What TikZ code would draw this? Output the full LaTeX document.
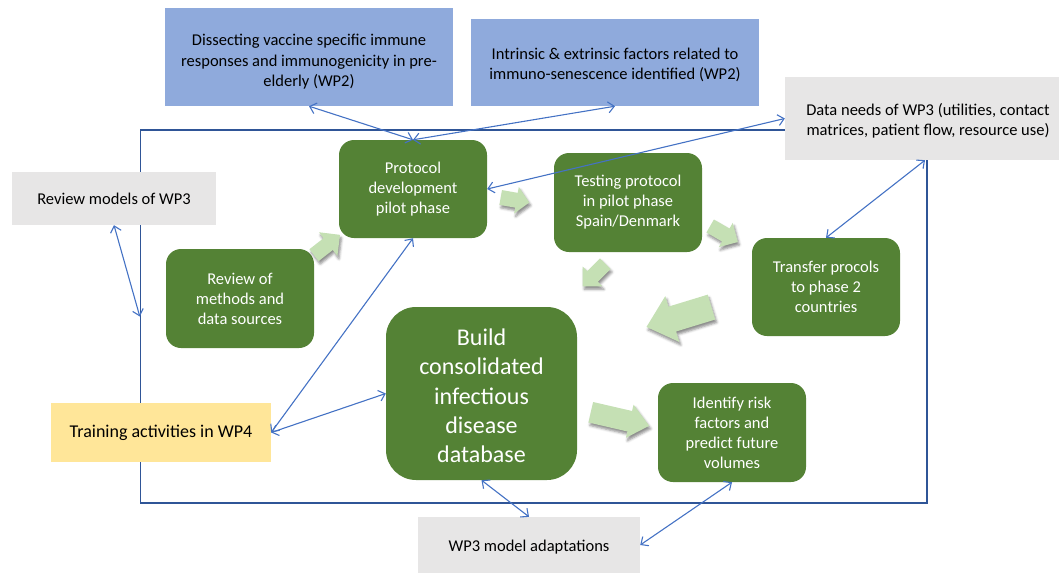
\documentclass[tikz,border=0pt]{standalone}
\usepackage{fontspec}
\setmainfont{Carlito}
\usetikzlibrary{arrows.meta,shadows.blur}
\definecolor{boxgreen}{HTML}{548235}
\definecolor{fatgreen}{HTML}{C5E0B4}
\definecolor{boxblue}{HTML}{8FAADC}
\definecolor{boxgrey}{HTML}{E7E6E6}
\definecolor{boxyellow}{HTML}{FFE699}
\definecolor{linkblue}{HTML}{4472C4}
\definecolor{frameblue}{HTML}{2F5597}
\tikzset{
  greenbox/.style={rectangle, rounded corners=15pt, fill=boxgreen, text=white, align=center,
    font=\fontsize{16.5}{20}\selectfont, inner sep=0pt},
  flatbox/.style={rectangle, align=center, font=\fontsize{16.5}{20.5}\selectfont, text=black, inner sep=0pt},
  textonly/.style={rectangle, align=center, font=\fontsize{16.5}{20.5}\selectfont, text=black, inner sep=0pt},
  link/.style={draw=linkblue, line width=1.1pt,
    {Straight Barb[length=6pt,width=11pt]}-{Straight Barb[length=6pt,width=11pt]}},
  frame/.style={draw=frameblue, line width=1.4pt, rectangle, inner sep=0pt},
  fat/.style={fill=fatgreen, blur shadow={shadow xshift=1.5pt, shadow yshift=-3pt,
    shadow blur radius=2.5pt, shadow opacity=45}},
}
% x, y, angle, length, body width, head width, head length
\newcommand{\fatarrow}[7]{%
  \fill[fat, shift={(#1,#2)}, rotate=#3]
    ({-#4/2},{-#5/2}) -- ({#4/2-#7},{-#5/2}) -- ({#4/2-#7},{-#6/2}) -- ({#4/2},0)
    -- ({#4/2-#7},{#6/2}) -- ({#4/2-#7},{#5/2}) -- ({-#4/2},{#5/2}) -- cycle;}
\begin{document}
\begin{tikzpicture}[x=1pt,y=-1pt]
\useasboundingbox (0,0) rectangle (1059,573);
% frame
\node[frame, minimum width=786.5pt, minimum height=373pt] (frame) at (533.75,316.5) {};
% flat boxes
\node[flatbox, fill=boxblue, minimum width=288pt, minimum height=98pt] (b1) at (309,57) {};
\node[textonly] (b1t) at (309,62)
  {Dissecting vaccine specific immune\\responses and immunogenicity in pre-\\elderly (WP2)};
\node[flatbox, fill=boxblue, minimum width=288pt, minimum height=87pt] (b2) at (615,62.5) {};
\node[textonly] (b2t) at (615,65)
  {Intrinsic \& extrinsic factors related to\\immuno-senescence identified (WP2)};
\node[flatbox, fill=boxgrey, minimum width=274pt, minimum height=83pt] (D) at (922,118.5) {};
\node[textonly] (Dt) at (928,121)
  {Data needs of WP3 (utilities, contact\\matrices, patient flow, resource use)};
\node[flatbox, fill=boxgrey, minimum width=204pt, minimum height=53pt] (R) at (114,198.5)
  {Review models of WP3};
\node[flatbox, fill=boxyellow, minimum width=220pt, minimum height=59pt,
  font=\fontsize{18}{22}\selectfont] (W4) at (161,432.5) {Training activities in WP4};
\node[flatbox, fill=boxgrey, minimum width=222pt, minimum height=56pt] (M) at (529,545) {};
\node[textonly] (Mt) at (529,547) {WP3 model adaptations};
% green boxes
\node[greenbox, minimum width=148pt, minimum height=98pt] (P) at (413,189)
  {Protocol\\development\\pilot phase};
\node[greenbox, minimum width=148pt, minimum height=99pt] (Te) at (628,202.5)
  {Testing protocol\\in pilot phase\\Spain/Denmark};
\node[greenbox, minimum width=148pt, minimum height=99pt] (Rv) at (240,298.5)
  {Review of\\methods and\\data sources};
\node[greenbox, minimum width=148pt, minimum height=98pt] (T) at (826,287)
  {Transfer procols\\to phase 2\\countries};
\node[greenbox, rounded corners=30pt, minimum width=191pt, minimum height=173pt] (B) at (481.5,393.5) {};
\node[textonly, text=white, font=\fontsize{24}{29.3}\selectfont] (Bt) at (481.5,396)
  {Build\\consolidated\\infectious\\disease\\database};
\node[greenbox, minimum width=148pt, minimum height=99pt] (I) at (732,432.5)
  {Identify risk\\factors and\\predict future\\volumes};
% fat arrows
\fatarrow{327}{245}{38}{33}{15}{30}{15}
\fatarrow{515}{200}{-10}{29}{15}{27}{13}
\fatarrow{724}{234}{-30}{32}{15}{28}{14}
\fatarrow{594}{275}{-135}{32}{15}{28}{14}
\fatarrow{679}{317}{-163}{68}{26}{48}{27}
\fatarrow{620}{419}{-13}{60}{21}{34}{20}
% links
\draw[link] (b1.south) -- (P.north);
\draw[link] (b2.south) -- (P.north);
\draw[link] (D.west) -- (P.east);
\draw[link] ([xshift=3pt]D.south) -- (T.north);
\draw[link] (R.south) -- (frame.west);
\draw[link] (W4.east) -- (P.south);
\draw[link] (W4.east) -- (B.west);
\draw[link] (B.south) -- (M.north);
\draw[link] (I.south) -- (M.east);
\end{tikzpicture}
\end{document}
